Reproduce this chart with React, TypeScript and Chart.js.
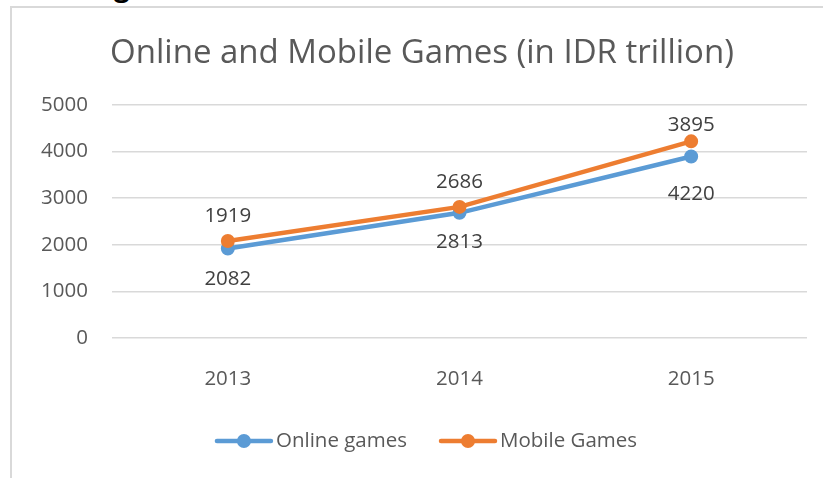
import React, { useEffect, useRef } from "react";
import { Chart, registerables } from "chart.js";

Chart.register(...registerables);

const categories = ["2013", "2014", "2015"];
const onlineGames = [1919, 2686, 3895];
const mobileGames = [2082, 2813, 4220];
// Data labels as printed in the source (placed above / below each pair of points)
const upperLabels = ["1919", "2686", "3895"];
const lowerLabels = ["2082", "2813", "4220"];
const yMin = 0;
const yMax = 5000;
const yStep = 1000;

const BLUE = "#5B9BD5";
const ORANGE = "#ED7D31";
const TEXT = "#595959";
const LABEL = "#404040";
const GRID = "#D9D9D9";
const FONT = "'Open Sans', Lato, sans-serif";
const SMALL = 20.5;

const upperOffsets = [-25, -25, -16];
const lowerOffsets = [31, 29, 38];

const labelPlugin = {
  id: "pairLabels",
  afterDatasetsDraw(chart: any) {
    const ctx = chart.ctx;
    const blue = chart.getDatasetMeta(0).data;
    const orange = chart.getDatasetMeta(1).data;
    ctx.save();
    ctx.font = `${SMALL}px ${FONT}`;
    ctx.fillStyle = LABEL;
    ctx.textAlign = "center";
    ctx.textBaseline = "middle";
    categories.forEach((_, i) => {
      const top = Math.min(blue[i].y, orange[i].y);
      const bot = Math.max(blue[i].y, orange[i].y);
      ctx.fillText(upperLabels[i], orange[i].x, top + upperOffsets[i]);
      ctx.fillText(lowerLabels[i], blue[i].x, bot + lowerOffsets[i]);
    });
    ctx.restore();
  },
};

const legendPlugin = {
  id: "lineLegend",
  afterDraw(chart: any) {
    const ctx = chart.ctx;
    const items = [
      { text: "Online games", color: BLUE },
      { text: "Mobile Games", color: ORANGE },
    ];
    ctx.save();
    ctx.font = `${SMALL}px ${FONT}`;
    const lineW = 54;
    const gapText = 5;
    const gapItems = 34;
    const widths = items.map((it) => lineW + gapText + ctx.measureText(it.text).width);
    const total = widths.reduce((a, b) => a + b, 0) + gapItems * (items.length - 1);
    let x = 427 - total / 2;
    const y = 441;
    items.forEach((it, i) => {
      ctx.strokeStyle = it.color;
      ctx.lineWidth = 4.5;
      ctx.lineCap = "round";
      ctx.beginPath();
      ctx.moveTo(x, y);
      ctx.lineTo(x + lineW, y);
      ctx.stroke();
      ctx.fillStyle = it.color;
      ctx.beginPath();
      ctx.arc(x + lineW / 2, y, 7, 0, Math.PI * 2);
      ctx.fill();
      ctx.fillStyle = TEXT;
      ctx.textAlign = "left";
      ctx.textBaseline = "middle";
      ctx.fillText(it.text, x + lineW + gapText, y);
      x += widths[i] + gapItems;
    });
    ctx.restore();
  },
};

export default function App() {
  const ref = useRef<HTMLCanvasElement | null>(null);

  useEffect(() => {
    if (!ref.current) return;
    const chart = new Chart(ref.current, {
      type: "line",
      data: {
        labels: categories,
        datasets: [
          {
            label: "Online games",
            data: onlineGames,
            borderColor: BLUE,
            backgroundColor: BLUE,
            borderWidth: 4.5,
            pointRadius: 6,
            pointBorderWidth: 2,
            pointBorderColor: BLUE,
            pointBackgroundColor: BLUE,
            tension: 0,
            order: 1,
          },
          {
            label: "Mobile Games",
            data: mobileGames,
            borderColor: ORANGE,
            backgroundColor: ORANGE,
            borderWidth: 4.5,
            pointRadius: 6,
            pointBorderWidth: 2,
            pointBorderColor: ORANGE,
            pointBackgroundColor: ORANGE,
            tension: 0,
            order: 0,
          },
        ],
      },
      options: {
        responsive: false,
        animation: false,
        layout: { padding: { left: 37, right: 16, top: 0, bottom: 80 } },
        plugins: {
          legend: { display: false },
          tooltip: { enabled: false },
          title: {
            display: true,
            text: "Online and Mobile Games (in IDR trillion)",
            color: TEXT,
            font: { family: FONT, size: 33, weight: "normal" as any, lineHeight: 1.2 },
            padding: { top: 34, bottom: 31.4 },
          },
        },
        scales: {
          x: {
            offset: true,
            grid: { display: false, drawTicks: false },
            border: { display: false },
            ticks: { color: TEXT, font: { family: FONT, size: SMALL }, padding: 29 },
            afterFit: (s: any) => {
              s.height = 60;
            },
          },
          y: {
            min: yMin,
            max: yMax,
            grid: { color: GRID, lineWidth: 1.5, drawTicks: false },
            border: { display: false },
            ticks: {
              stepSize: yStep,
              color: TEXT,
              font: { family: FONT, size: SMALL },
              padding: 24,
              callback: (v: any) => String(v),
            },
            afterFit: (s: any) => {
              s.width = 75;
            },
          },
        },
      },
      plugins: [labelPlugin, legendPlugin],
    });
    return () => chart.destroy();
  }, []);

  return (
    <div style={{ position: "absolute", left: 0, top: 0, width: 823, height: 478, overflow: "hidden", background: "#fff" }}>
      <div
        style={{
          position: "absolute",
          left: 114,
          top: -29,
          fontFamily: FONT,
          fontWeight: "bold",
          fontSize: 28,
          lineHeight: "28px",
          color: "#000",
        }}
      >
        g
      </div>
      <div
        style={{
          position: "absolute",
          left: 10,
          top: 6,
          width: 830,
          height: 490,
          borderTop: "2px solid " + GRID,
          borderLeft: "2px solid " + GRID,
          boxSizing: "border-box",
        }}
      />
      <canvas ref={ref} width={823} height={478} style={{ position: "absolute", left: 0, top: 0 }} />
    </div>
  );
}
